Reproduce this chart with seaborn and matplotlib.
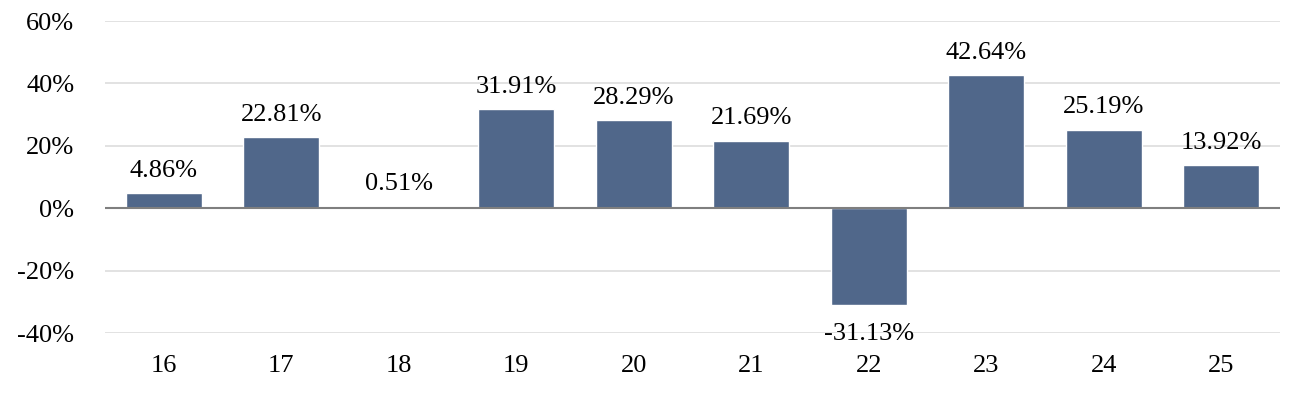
import matplotlib
matplotlib.use("Agg")
import matplotlib.pyplot as plt
import seaborn as sns
import pandas as pd

categories = ["16", "17", "18", "19", "20", "21", "22", "23", "24", "25"]
values = [4.86, 22.81, 0.51, 31.91, 28.29, 21.69, -31.13, 42.64, 25.19, 13.92]
yticks = [-40, -20, 0, 20, 40, 60]

sns.set_theme(style="white")
plt.rcParams['font.family'] = ['Liberation Serif', 'DejaVu Serif']

df = pd.DataFrame({"cat": categories, "val": values})

fig = plt.figure(figsize=(13, 4), dpi=100)
ax = fig.add_axes([105/1300, 1-333/400, (1280-105)/1300, (333-21)/400])

for y in yticks:
    if y != 0:
        ax.axhline(y, color="#DDDDDD", lw=1.2, zorder=0)

sns.barplot(data=df, x="cat", y="val", color="#50678A", saturation=1,
            width=0.65, ax=ax, zorder=2)
ax.axhline(0, color="#7F7F7F", lw=1.5, zorder=3)

ax.set_ylim(-40, 60)
ax.set_xlim(-0.5, len(categories) - 0.5)
ax.set_yticks(yticks)
ax.set_yticklabels([f"{y}%" for y in yticks], fontsize=19, color="#000000")
ax.tick_params(axis="y", length=0, pad=22)
ax.tick_params(axis="x", length=0, pad=16, labelsize=19, labelcolor="#000000")
ax.set_xlabel("")
ax.set_ylabel("")
for s in ax.spines.values():
    s.set_visible(False)

for i, v in enumerate(values):
    if v >= 0:
        ax.annotate(f"{v:.2f}%", (i, v), xytext=(0, 8), textcoords="offset points",
                    ha="center", va="bottom", fontsize=19, color="#000000")
    else:
        ax.annotate(f"{v:.2f}%", (i, v), xytext=(0, -13), textcoords="offset points",
                    ha="center", va="top", fontsize=19, color="#000000",
                    annotation_clip=False)

fig.savefig("out.png", dpi=100)
